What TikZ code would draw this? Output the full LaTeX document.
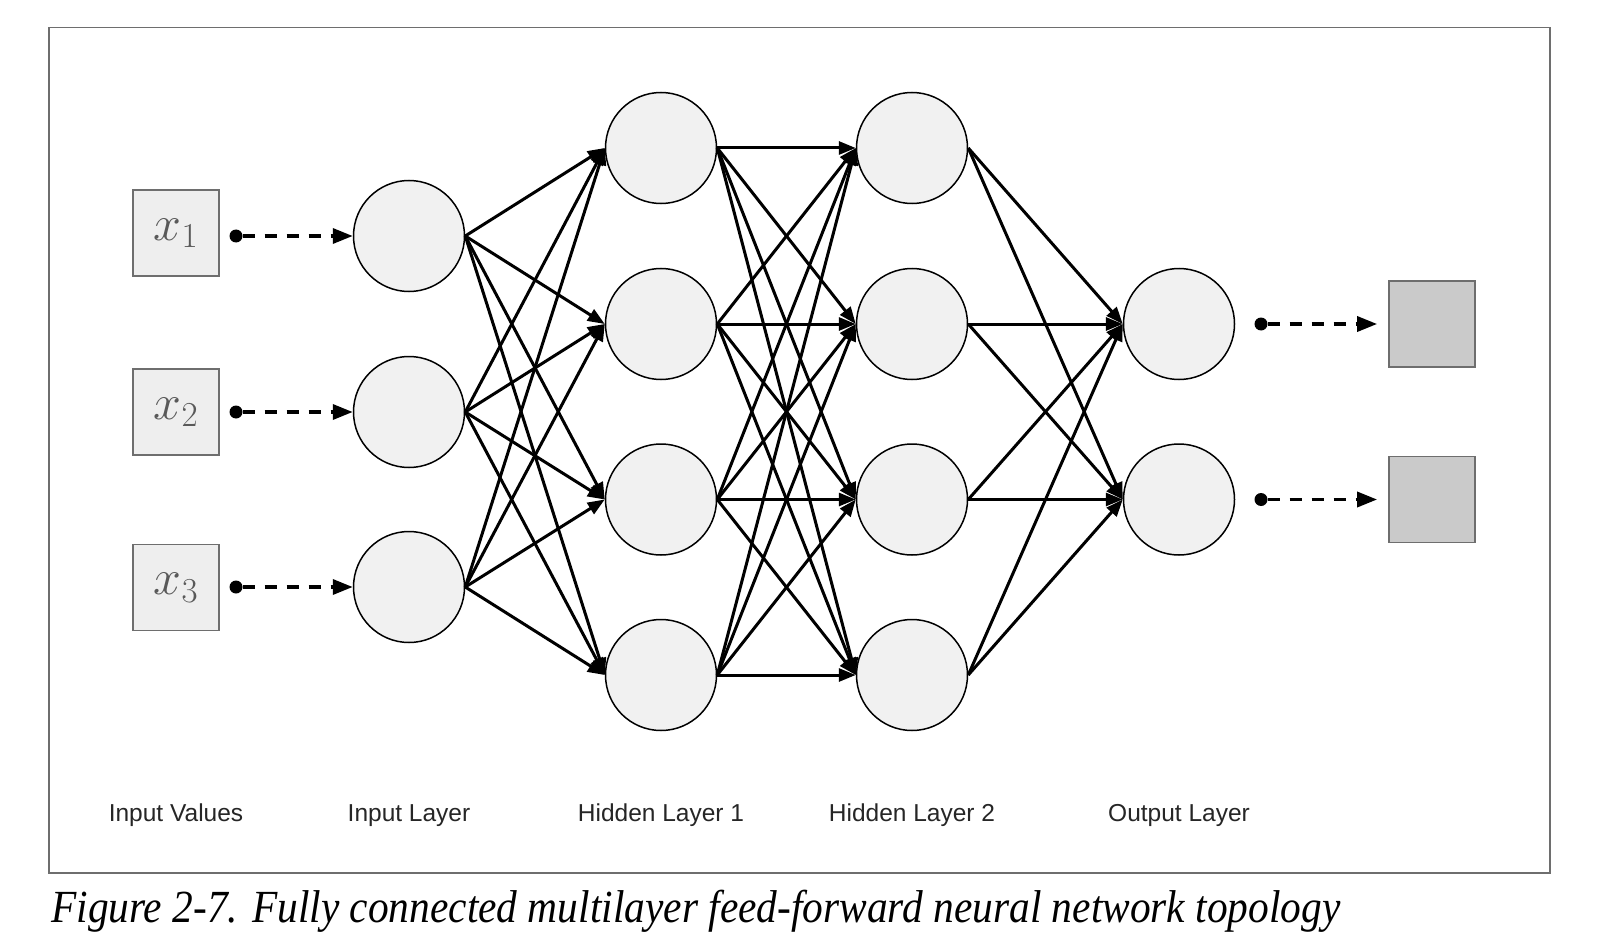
\RequirePackage{fix-cm}
\documentclass[tikz,border=0pt]{standalone}
\usepackage{fontspec}
\newfontfamily\labelfont{Liberation Sans}
\newfontfamily\capfont[FakeStretch=0.9]{Liberation Serif}
\usetikzlibrary{arrows.meta}
\definecolor{cellgray}{HTML}{F1F1F1}
\definecolor{invalgray}{HTML}{EEEEEE}
\definecolor{outvalgray}{HTML}{CACACA}
\definecolor{rimgray}{HTML}{6E6E6E}
\tikzstyle{neuron}=[circle, draw=black, line width=1.5pt, fill=cellgray, minimum size=111pt, inner sep=0pt]
\tikzstyle{inval}=[rectangle, draw=rimgray, line width=1.8pt, fill=invalgray, minimum size=86pt, inner sep=0pt, text=black!65, font=\fontsize{50}{60}\selectfont]
\tikzstyle{outval}=[rectangle, draw=rimgray, line width=1.8pt, fill=outvalgray, minimum size=86pt, inner sep=0pt]
\tikzstyle{dot}=[circle, fill=black, inner sep=0pt, minimum size=13pt]
\tikzstyle{wire}=[line width=3pt, -{Triangle[length=17pt,width=13pt]}]
\tikzstyle{feed}=[line width=3.5pt, dash pattern=on 12pt off 10pt, -{Triangle[length=20pt,width=15pt]}]
\tikzstyle{layername}=[anchor=base, text=black!85, font=\labelfont\fontsize{24.5}{28}\selectfont]

\begin{document}
\begin{tikzpicture}[x=1pt, y=-1pt]
                                        \useasboundingbox[fill=white] (0,0) rectangle (1598,944);
                                        \draw[rimgray, line width=1.8pt] (49,27.5) rectangle (1550,873);

                                        % input values
                                        \node[inval] (x1) at (176,233) {$x_1$};
                                        \node[inval] (x2) at (176,412) {$x_2$};
                                        \node[inval] (x3) at (176,587.5) {$x_3$};
                                        \node[dot] (d1) at (236,236) {};
                                        \node[dot] (d2) at (236,412) {};
                                        \node[dot] (d3) at (236,587) {};

                                        % layers
                                        \node[neuron] (a1) at (409,236) {};
                                        \node[neuron] (a2) at (409,412) {};
                                        \node[neuron] (a3) at (409,587) {};

                                        \node[neuron] (b1) at (661,148) {};
                                        \node[neuron] (b2) at (661,324) {};
                                        \node[neuron] (b3) at (661,499.5) {};
                                        \node[neuron] (b4) at (661,675) {};

                                        \node[neuron] (c1) at (912,148) {};
                                        \node[neuron] (c2) at (912,324) {};
                                        \node[neuron] (c3) at (912,499.5) {};
                                        \node[neuron] (c4) at (912,675) {};

                                        \node[neuron] (o1) at (1179,324) {};
                                        \node[neuron] (o2) at (1179,499.5) {};

                                        % outputs
                                        \node[dot] (e1) at (1261,324) {};
                                        \node[dot] (e2) at (1261,499.5) {};
                                        \node[outval] (y1) at (1432,324) {};
                                        \node[outval] (y2) at (1432,499.5) {};

                                        \draw[feed] (d1) -- (a1.west);
                                        \draw[feed] (d2) -- (a2.west);
                                        \draw[feed] (d3) -- (a3.west);
                                        \draw[feed, shorten >=11pt] (e1) -- (y1.west);
                                        \draw[feed, shorten >=11pt] (e2) -- (y2.west);

                                        \draw[wire] (a1.east) -- (b1.west);
                                        \draw[wire] (a1.east) -- (b2.west);
                                        \draw[wire] (a1.east) -- (b3.west);
                                        \draw[wire] (a1.east) -- (b4.west);
                                        \draw[wire] (a2.east) -- (b1.west);
                                        \draw[wire] (a2.east) -- (b2.west);
                                        \draw[wire] (a2.east) -- (b3.west);
                                        \draw[wire] (a2.east) -- (b4.west);
                                        \draw[wire] (a3.east) -- (b1.west);
                                        \draw[wire] (a3.east) -- (b2.west);
                                        \draw[wire] (a3.east) -- (b3.west);
                                        \draw[wire] (a3.east) -- (b4.west);

                                        \draw[wire] (b1.east) -- (c1.west);
                                        \draw[wire] (b1.east) -- (c2.west);
                                        \draw[wire] (b1.east) -- (c3.west);
                                        \draw[wire] (b1.east) -- (c4.west);
                                        \draw[wire] (b2.east) -- (c1.west);
                                        \draw[wire] (b2.east) -- (c2.west);
                                        \draw[wire] (b2.east) -- (c3.west);
                                        \draw[wire] (b2.east) -- (c4.west);
                                        \draw[wire] (b3.east) -- (c1.west);
                                        \draw[wire] (b3.east) -- (c2.west);
                                        \draw[wire] (b3.east) -- (c3.west);
                                        \draw[wire] (b3.east) -- (c4.west);
                                        \draw[wire] (b4.east) -- (c1.west);
                                        \draw[wire] (b4.east) -- (c2.west);
                                        \draw[wire] (b4.east) -- (c3.west);
                                        \draw[wire] (b4.east) -- (c4.west);

                                        \draw[wire] (c1.east) -- (o1.west);
                                        \draw[wire] (c1.east) -- (o2.west);
                                        \draw[wire] (c2.east) -- (o1.west);
                                        \draw[wire] (c2.east) -- (o2.west);
                                        \draw[wire] (c3.east) -- (o1.west);
                                        \draw[wire] (c3.east) -- (o2.west);
                                        \draw[wire] (c4.east) -- (o1.west);
                                        \draw[wire] (c4.east) -- (o2.west);

                                        % layer names
                                        \node[layername] (nx) at (176,821) {Input Values};
                                        \node[layername] (na) at (409,821) {Input Layer};
                                        \node[layername] (nb) at (661,821) {Hidden Layer 1};
                                        \node[layername] (nc) at (912,821) {Hidden Layer 2};
                                        \node[layername] (no) at (1179,821) {Output Layer};

                                        \node[anchor=base west, inner sep=0pt, font=\capfont\itshape\fontsize{46}{52}\selectfont] (cap) at (51,922) {Figure 2-7. Fully connected multilayer feed-forward neural network topology};
                                    \end{tikzpicture}
\end{document}
